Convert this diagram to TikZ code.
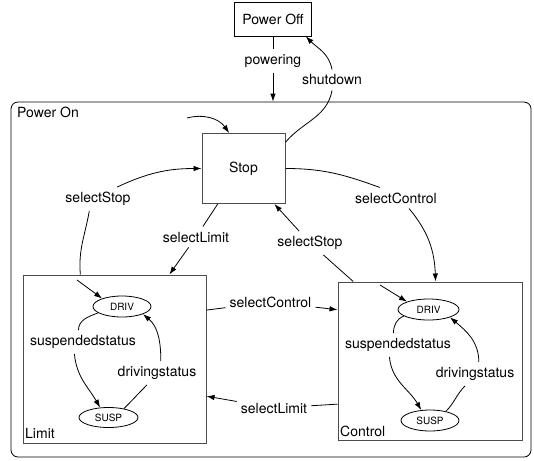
\documentclass[tikz,border=0pt]{standalone}
\usepackage{fontspec}
\setmainfont{TeX Gyre Heros}
\usetikzlibrary{arrows.meta,shapes.geometric}
\tikzset{
	statebox/.style={draw=black!70, line width=1pt, inner sep=0pt, font=\fontsize{14}{16}\selectfont},
	substate/.style={draw, ellipse, line width=0.8pt, inner sep=0pt, font=\fontsize{10}{12}\selectfont},
	lbl/.style={inner xsep=4pt, inner ysep=5pt, font=\fontsize{14}{16}\selectfont},
	wire/.style={line width=0.8pt},
	trans/.style={line width=0.8pt, -{Latex[length=8pt,width=5.5pt]}}
}

\begin{document}
\begin{tikzpicture}[x=1pt,y=1pt]
			%%%%% START %%%%%
			\useasboundingbox (0,0) rectangle (534,-460);
			
			\node[draw, line width=0.8pt, minimum width=77pt, minimum height=34pt, font=\fontsize{14}{16}\selectfont] (off) at (273,-19) {Power Off};
			\node[draw, rounded corners=7pt, line width=0.8pt, minimum width=520pt, minimum height=355pt] (on) at (271,-279.5) {};
			\node[lbl, anchor=base west, inner sep=0pt] (onname) at (17,-117) {Power On};
			
			\node[statebox, minimum width=83pt, minimum height=70pt] (stop) at (243.5,-168.5) {Stop};
			\node[statebox, minimum width=183pt, minimum height=168pt] (limit) at (114.5,-359) {};
			\node[statebox, minimum width=184pt, minimum height=158pt] (control) at (430,-361) {};
			\node[lbl, anchor=base west, inner sep=0pt] (limitname) at (25,-438) {Limit};
			\node[lbl, anchor=base west, inner sep=0pt] (controlname) at (340,-436) {Control};
			
			\node[substate, minimum width=58pt, minimum height=21pt] (limdriv) at (122,-306.5) {DRIV};
			\node[substate, minimum width=59pt, minimum height=20pt] (limsusp) at (108.5,-417.5) {SUSP};
			\node[substate, minimum width=61pt, minimum height=21pt] (ctrldriv) at (428.5,-309.5) {DRIV};
			\node[substate, minimum width=58pt, minimum height=21pt] (ctrlsusp) at (430,-420.5) {SUSP};
			
			\node[lbl] (lpow) at (273,-61) {powering};
			\node[lbl] (lshut) at (332,-80) {shutdown};
			\node[lbl] (lstopL) at (98,-199) {selectStop};
			\node[lbl] (llimT) at (196,-237) {selectLimit};
			\node[lbl] (lstopR) at (310,-243) {selectStop};
			\node[lbl] (lctrlT) at (396,-198) {selectControl};
			\node[lbl] (lctrlM) at (270.5,-302) {selectControl};
			\node[lbl] (llimM) at (274,-408) {selectLimit};
			\node[lbl] (lsuspA) at (83,-342) {suspendedstatus};
			\node[lbl] (ldrivA) at (157,-373) {drivingstatus};
			\node[lbl] (lsuspB) at (398,-345) {suspendedstatus};
			\node[lbl] (ldrivB) at (475,-374) {drivingstatus};
			
			\coordinate (stopini) at (187,-118);
			\coordinate (limini) at (77,-280);
			\coordinate (ctrlini) at (380,-285);
			
			% power on / off
			\draw[wire] (off.south) -- (lpow);
			\draw[trans] (lpow) -- (lpow |- on.north);
			\draw[wire] (stop.32) to[out=50,in=-100] (lshut.south);
			\draw[trans] (lshut.north) to[out=100,in=-45] (off.-28);
			\draw[trans] (stopini) to[out=15,in=125] (stop.112);
			
			% top level
			\draw[wire] (limit.112) to[out=95,in=-100] (lstopL.234);
			\draw[trans] (lstopL.32) to[out=25,in=180] (stop.west);
			\draw[wire] (stop.234) -- (llimT);
			\draw[trans] (llimT) -- (limit.57);
			\draw[wire] (control.134) -- (lstopR);
			\draw[trans] (lstopR) -- (stop.-49);
			\draw[wire] (stop.east) to[out=0,in=160] (lctrlT.147);
			\draw[trans] (lctrlT.-39) to[out=-50,in=92] (control.86);
			\draw[wire] (limit.28) -- (lctrlM);
			\draw[trans] (lctrlM) -- (control.151);
			\draw[wire] (control.205) -- (llimM);
			\draw[trans] (llimM) -- (limit.-22);
			
			% inside Limit
			\draw[trans] (limini) -- (limdriv.158);
			\draw[wire] (limdriv.195) to[out=200,in=90] (lsuspA.111);
			\draw[trans] (lsuspA.234) to[out=-85,in=120] (limsusp.130);
			\draw[wire] (limsusp.30) to[out=45,in=225] (ldrivA.230);
			\draw[trans] (ldrivA.72) to[out=90,in=-40] (limdriv.-20);
			
			% inside Control
			\draw[trans] (ctrlini) -- (ctrldriv.160);
			\draw[wire] (ctrldriv.195) to[out=200,in=90] (lsuspB.111);
			\draw[trans] (lsuspB.234) to[out=-85,in=120] (ctrlsusp.130);
			\draw[wire] (ctrlsusp.30) to[out=45,in=225] (ldrivB.230);
			\draw[trans] (ldrivB.72) to[out=90,in=-40] (ctrldriv.-20);
			%%%%% END %%%%%
\end{tikzpicture}
\end{document}
